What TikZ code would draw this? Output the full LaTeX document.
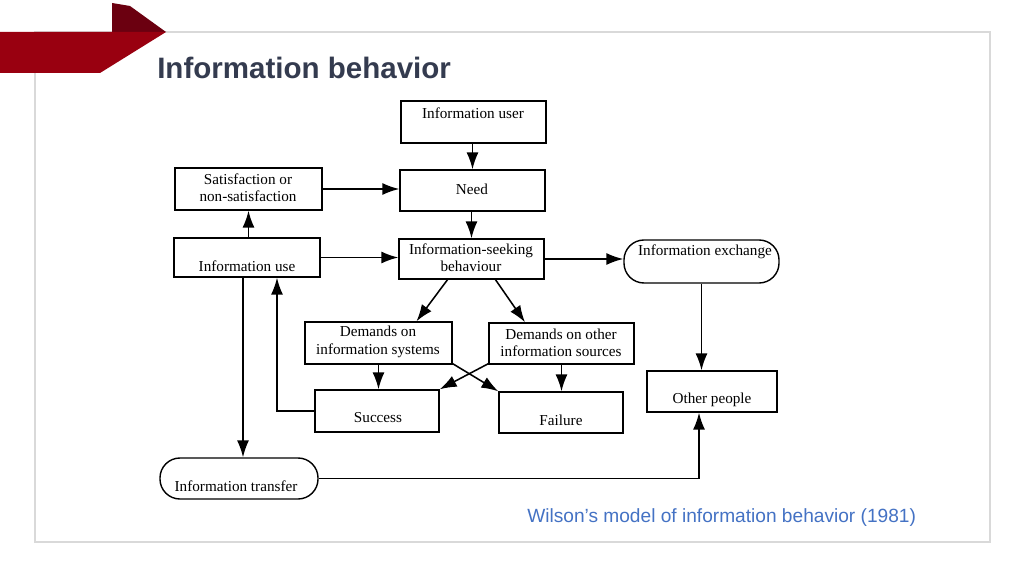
\documentclass[tikz,border=0pt]{standalone}
\usepackage{fontspec}
\setmainfont{Liberation Serif}
\newfontfamily\arialfont{Liberation Sans}
\usetikzlibrary{arrows.meta,calc}
\definecolor{frame}{HTML}{D9D9D9}
\definecolor{bandred}{HTML}{990010}
\definecolor{banddark}{HTML}{6B0010}
\definecolor{titlecol}{HTML}{343B4F}
\definecolor{capcol}{HTML}{4472C4}
\begin{document}
\begin{tikzpicture}[x=0.025cm,y=-0.025cm,
  box/.style={draw,line width=1pt,inner sep=0pt},
  pill/.style={box,rounded corners=0.5cm},
  txt/.style={font=\fontsize{10.8}{12.3}\selectfont,align=center,inner sep=0pt},
  arr/.style={line width=1.1pt,-{Latex[length=12pt,width=8.5pt]}},
  ln/.style={line width=1.1pt}]
\useasboundingbox (0,0) rectangle (1024,576);
\fill[white] (0,0) rectangle (1024,576);
% slide frame
\draw[frame,line width=1.2pt] (35,32) rectangle (990,542);
% red banner
\fill[banddark] (112,3) -- (130,6) -- (166,32) -- (112,32) -- cycle;
\fill[bandred] (0,32) -- (166,32) -- (100,73) -- (0,73) -- cycle;
% title
\node[anchor=base west,inner sep=0pt,text=titlecol,font=\arialfont\bfseries\fontsize{21}{25}\selectfont] (title) at (157,79) {Information behavior};
% caption
\node[anchor=base west,inner sep=0pt,text=capcol,font=\arialfont\fontsize{13.6}{16}\selectfont] (caption) at (527,522) {Wilson’s model of information behavior (1981)};
% boxes
\node[box,minimum width=3.625cm,minimum height=1.05cm] (user) at (473.5,122) {};
\node[box,minimum width=3.625cm,minimum height=1.025cm] (need) at (472.5,190.5) {};
\node[box,minimum width=3.675cm,minimum height=1.05cm] (sat) at (248.5,189) {};
\node[box,minimum width=3.65cm,minimum height=0.975cm] (use) at (247,257.5) {};
\node[box,minimum width=3.625cm,minimum height=1.0cm] (seek) at (471.5,259) {};
\node[pill,minimum width=3.875cm,minimum height=1.075cm] (exch) at (701.5,261.5) {};
\node[box,minimum width=3.675cm,minimum height=1.05cm] (sys) at (378.5,343) {};
\node[box,minimum width=3.625cm,minimum height=1.025cm] (src) at (561.5,343.5) {};
\node[box,minimum width=3.1cm,minimum height=1.05cm] (succ) at (377,411) {};
\node[box,minimum width=3.1cm,minimum height=1.025cm] (fail) at (561,412.5) {};
\node[box,minimum width=3.25cm,minimum height=1.025cm] (other) at (712,391.5) {};
\node[pill,minimum width=3.95cm,minimum height=1.025cm] (transfer) at (239,478.5) {};
% texts
\node[txt] (tuser) at (473,113) {Information user};
\node[txt] (tneed) at (472,189) {Need};
\node[txt] (tsat) at (248,188) {Satisfaction or\\non-satisfaction};
\node[txt] (tuse) at (247,266) {Information use};
\node[txt] (tseek) at (471,258) {Information-seeking\\behaviour};
\node[txt] (texch) at (705,252) {Information exchange};
\node[txt] (tsys) at (378,342) {Demands on\\information systems};
\node[txt] (tsrc) at (561,343) {Demands on other\\information sources};
\node[txt] (tsucc) at (378,418) {Success};
\node[txt] (tfail) at (561,420) {Failure};
\node[txt] (tother) at (712,400) {Other people};
\node[txt] (ttransfer) at (236,486) {Information transfer};
% helper points
\coordinate (ut) at ($(use.south)+(-4,0)$);
\coordinate (ub) at ($(use.south)+(30,0)$);
\coordinate (ob) at ($(other.south)+(-13,0)$);
% connectors
\draw[arr] (need.north |- user.south) -- (need.north);
\draw[arr] (seek.north |- need.south) -- (seek.north);
\draw[arr] (sat.east) -- (sat.east -| need.west);
\draw[arr] (sat.south |- use.north) -- (sat.south);
\draw[arr] (use.east) -- (use.east -| seek.west);
\draw[arr] (seek.east) -- (seek.east -| exch.west);
\draw[arr] ($(seek.south)+(-24,0)$) -- ($(sys.north)+(38,0)$);
\draw[arr] ($(seek.south)+(24,0)$) -- ($(src.north)+(-36.5,0)$);
\draw[arr] (sys.south) -- (sys.south |- succ.north);
\draw[arr] (src.south) -- (src.south |- fail.north);
\draw[arr] ($(sys.south east)+(0,-1)$) -- (fail.north west);
\draw[arr] ($(src.south west)+(0,-1)$) -- (succ.north east);
\draw[arr] (succ.west) -| (ub);
\draw[arr] (ut) -- (ut |- transfer.north);
\draw[arr] (transfer.east) -| (ob);
\draw[arr] (exch.south) -- (exch.south |- other.north);
\end{tikzpicture}
\end{document}
